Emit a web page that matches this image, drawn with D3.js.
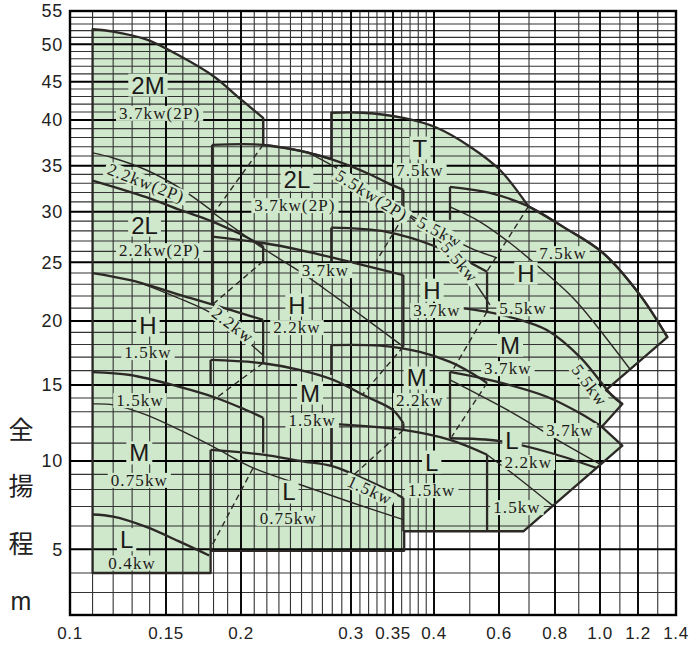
<!DOCTYPE html>
<html><head><meta charset="utf-8">
<script src="https://cdn.jsdelivr.net/npm/d3@7/dist/d3.min.js"></script>
<style>html,body{margin:0;padding:0;background:#fff}svg{display:block}</style>
</head><body>
<svg id="chart" width="690" height="645"></svg>
<script>
// ---------------- axis data ----------------
const xTicks = [0.1,0.15,0.2,0.3,0.35,0.4,0.6,0.8,1.0,1.2,1.4];
const xTickLabels = ["0.1","0.15","0.2","0.3","0.35","0.4","0.6","0.8","1.0","1.2","1.4"];
const xMinor = [0.11,0.12,0.13,0.14,0.16,0.17,0.18,0.19,0.21,0.22,0.23,0.24,0.25,0.26,0.27,0.28,0.29,
                0.31,0.32,0.33,0.34,0.36,0.37,0.38,0.39,0.5,0.7,0.9,1.1,1.3];
const yTicks = [5,10,15,20,25,30,35,40,45,50,55];
const yMinor = [3.5,4,6,7,8,9,11,12,13,14,16,17,18,19,21,22,23,24,26,27,28,29,31,32,33,34,
                36,37,38,39,41,42,43,44,46,47,48,49,51,52,53,54];
const yTitle = ["全","揚","程","m"];

// ---------------- curves  [Q (m3/min), H (m)] ----------------
// thick (upper limit) curves
const top2M  = [[0.11,52.2],[0.12,51.85],[0.138,50.7],[0.158,48.4],[0.18,45.7],[0.199,42.75],[0.217,40.25]];
const top2LA = [[0.11,33.3],[0.138,31.5],[0.158,30.2],[0.178,29.03],[0.199,27.7],[0.217,26.5]];
const topHA  = [[0.11,24.0],[0.129,23.36],[0.1645,21.83],[0.192,20.86],[0.217,20.08]];
const topMA  = [[0.11,15.9],[0.129,15.69],[0.158,14.85],[0.18,14.07],[0.199,13.32],[0.217,12.6]];
const topLA  = [[0.11,6.57],[0.12,6.46],[0.138,5.96],[0.158,5.31],[0.177,4.72]];
const topB2L = [[0.179,37.2],[0.217,37.2],[0.249,36.55],[0.281,35.6],[0.318,34.16],[0.342,33.07],[0.362,32.28]];
const top37B = [[0.179,27.43],[0.217,26.8],[0.249,26.13],[0.299,25.03],[0.362,23.82]];
const topMB  = [[0.178,16.79],[0.217,16.54],[0.249,16.04],[0.281,15.35],[0.318,14.09],[0.35,13.12],[0.362,12.23]];
const topLB  = [[0.178,10.61],[0.217,10.34],[0.249,10.0],[0.279,9.63],[0.302,9.03],[0.334,8.2],[0.362,7.48]];
const topT   = [[0.279,40.9],[0.3135,40.9],[0.362,40.25],[0.407,39.1],[0.501,37.0],[0.603,34.5],[0.6975,30.55]];
const topHC  = [[0.279,28.32],[0.342,27.9],[0.407,26.42],[0.557,24.12]];
const topMC  = [[0.279,17.95],[0.334,17.9],[0.382,17.4],[0.442,16.64],[0.50,15.9],[0.557,15.14]];
const topLC  = [[0.279,12.19],[0.362,11.8],[0.442,11.19],[0.557,10.34]];
const topE75 = [[0.442,32.6],[0.567,31.95],[0.6975,30.55],[0.84,28.3],[1.015,25.85],[1.21,22.07],[1.352,18.6]];
const topE55 = [[0.45,21.1],[0.557,20.7],[0.646,20.23],[0.767,19.2],[0.906,17.0],[1.066,14.07],[1.113,13.56]];
const topME  = [[0.442,15.92],[0.591,15.23],[0.767,14.09],[0.906,12.9],[1.009,12.0]];
const topLE  = [[0.442,11.29],[0.603,11.12],[0.78,10.45],[0.985,9.45]];
// thin (smaller motor) curves
const thin22_2P = [[0.11,36.33],[0.12,35.8],[0.138,34.5],[0.158,32.5],[0.18,29.97]];
const thin22A   = [[0.135,23.1],[0.16,21.67],[0.178,20.63],[0.199,18.78],[0.217,17.15]];
const thinMA    = [[0.11,13.56],[0.12,13.49],[0.138,12.79],[0.158,11.8],[0.18,10.78],[0.209,9.48],[0.249,8.3],[0.299,7.25],[0.362,6.31]];
const thin37B   = [[0.18,29.85],[0.199,27.9],[0.219,26.13],[0.249,24.1],[0.281,22.07],[0.322,19.9],[0.362,17.82]];
const thin55_2P = [[0.255,36.44],[0.288,34.5],[0.324,32.17],[0.366,29.85],[0.415,27.9],[0.501,26.33],[0.593,25.4]];
const thin55T   = [[0.364,29.85],[0.4025,27.4],[0.4704,25.03],[0.533,22.5],[0.567,21.26]];
const thinE75   = [[0.442,30.48],[0.533,28.93],[0.635,26.8],[0.7405,24.47],[0.8834,21.67],[1.049,18.12],[1.155,16.1]];
const thinME    = [[0.442,15.35],[0.646,12.9],[0.832,11.0],[1.0,9.76]];
const thinLC    = [[0.557,10.34],[0.668,8.67],[0.792,7.03]];
// straight edges of regions
const edges = [
  [[0.217,40.25],[0.217,37.2]], [[0.217,26.5],[0.217,25.1]], [[0.217,20.08],[0.217,16.56]],
  [[0.217,12.6],[0.217,10.45]], [[0.179,37.2],[0.179,21.26]], [[0.362,32.28],[0.362,29.47]],
  [[0.362,23.82],[0.362,17.82]], [[0.178,16.79],[0.178,15.0]], [[0.362,12.23],[0.362,11.8]],
  [[0.178,10.61],[0.178,4.93]], [[0.362,7.48],[0.362,5.76]], [[0.279,28.32],[0.279,25.0]],
  [[0.557,24.12],[0.557,20.73]], [[0.279,17.95],[0.279,15.69]], [[0.279,12.19],[0.279,9.63]],
  [[0.557,10.34],[0.557,5.76]], [[0.442,32.6],[0.442,29.13]], [[0.442,15.92],[0.442,11.29]]
];
// dashed limit lines
const dashed = [
  [[0.217,37.2],[0.18,29.8]], [[0.217,25.1],[0.179,21.26]], [[0.217,16.56],[0.18,13.85]],
  [[0.209,9.45],[0.178,5.05]], [[0.362,29.47],[0.33,25.2]], [[0.362,17.82],[0.3135,14.3]],
  [[0.362,11.8],[0.299,8.74]], [[0.6975,30.51],[0.556,24.12]], [[0.557,20.73],[0.447,15.92]],
  [[0.557,15.14],[0.447,11.39]]
];
// outer boundary of the selection area
const notchB2L = [[0.217,37.2],[0.249,36.55],[0.279,35.7]];
const outlineZigzag = [[1.029,14.6],[1.113,13.56],[1.009,12.0],[1.113,10.85],[0.68,5.76],[0.363,5.76],
                       [0.363,4.93],[0.178,4.93],[0.178,4.0],[0.11,4.0]];
// labels
const labels = [
  {t:"2M",q:0.139,h:44.55,k:"big"}, {t:"3.7kw(2P)",q:0.146,h:40.9},
  {t:"2.2kw(2P)",q:0.138,h:33.07,r:21},
  {t:"2L",q:0.137,h:28.6,k:"big"}, {t:"2.2kw(2P)",q:0.146,h:26.13},
  {t:"H",q:0.139,h:19.65,k:"big"}, {t:"1.5kw",q:0.139,h:17.4},
  {t:"1.5kw",q:0.1344,h:13.85},
  {t:"M",q:0.134,h:10.45,k:"big"}, {t:"0.75kw",q:0.134,h:8.63},
  {t:"L",q:0.127,h:5.4,k:"big"}, {t:"0.4kw",q:0.130,h:4.42},
  {t:"2.2kw",q:0.194,h:19.65,r:37},
  {t:"2L",q:0.2458,h:33.4,k:"big"}, {t:"3.7kw(2P)",q:0.244,h:30.68},
  {t:"3.7kw",q:0.273,h:24.28},
  {t:"H",q:0.2458,h:21.26,k:"big"}, {t:"2.2kw",q:0.2458,h:19.47},
  {t:"M",q:0.258,h:14.38,k:"big"}, {t:"1.5kw",q:0.26,h:12.45},
  {t:"L",q:0.2386,h:7.85,k:"big"}, {t:"0.75kw",q:0.238,h:6.41},
  {t:"1.5kw",q:0.3217,h:7.97,r:25},
  {t:"5.5kw(2P)",q:0.324,h:31.73,r:32},
  {t:"T",q:0.382,h:36.87,k:"big"}, {t:"7.5kw",q:0.382,h:34.5},
  {t:"5.5kw",q:0.415,h:27.9,r:28}, {t:"5.5kw",q:0.470,h:25.03,r:50},
  {t:"H",q:0.3974,h:22.5,k:"big"}, {t:"3.7kw",q:0.4075,h:20.86},
  {t:"M",q:0.378,h:15.49,k:"big"}, {t:"2.2kw",q:0.382,h:13.85},
  {t:"L",q:0.397,h:9.93,k:"big"}, {t:"1.5kw",q:0.397,h:7.96},
  {t:"7.5kw",q:0.8324,h:25.85},
  {t:"H",q:0.689,h:24.0,k:"big"}, {t:"5.5kw",q:0.679,h:21.0},
  {t:"M",q:0.635,h:17.95,k:"big"}, {t:"3.7kw",q:0.628,h:16.19},
  {t:"5.5kw",q:0.9516,h:15.0,r:53},
  {t:"3.7kw",q:0.8617,h:11.8},
  {t:"L",q:0.6415,h:11.19,k:"big"}, {t:"2.2kw",q:0.6975,h:9.93},
  {t:"1.5kw",q:0.658,h:6.97}
];

// ---------------- scales (non-uniform chart paper) ----------------
const x = d3.scaleLog().domain(xTicks).range([70,166,241,351,393,434,499,555,600,638,676]);
const y = d3.scaleLog().domain([3,4,5,10,15,20,25,30,35,40,45,50,55])
            .range([615,573,549.3,461,385,321,262.3,211.7,165.7,120,81.7,44.3,11]);

const GREEN = "#cfe7cb", INK = "#2b2826";
const svg = d3.select("#chart");
const X0 = x(0.1), X1 = x(1.4), Y0 = y(3), Y1 = y(55);

const curveGen = d3.line().x(d=>x(d[0])).y(d=>y(d[1])).curve(d3.curveCatmullRom.alpha(0.5));
const lineGen = d3.line().x(d=>x(d[0])).y(d=>y(d[1]));
const cont = s => s.replace(/^M/,"L");

// ---------- green area ----------
let p = lineGen([[0.11,4],[0.11,52.2]]);
p += cont(curveGen(top2M));
p += cont(lineGen([[0.217,40.25],[0.217,37.2]]));
p += cont(curveGen(notchB2L));
p += cont(lineGen([[0.279,35.7],[0.279,40.9]]));
p += cont(curveGen(topT));
p += cont(curveGen(topE75.filter(d=>d[0]>=0.6975)));
p += cont(lineGen(outlineZigzag)) + "Z";
svg.append("path").attr("d",p).attr("fill",GREEN).attr("stroke","none");

// ---------- grid ----------
const grid = svg.append("g");
grid.selectAll("line.xm").data(xMinor).join("line")
  .attr("x1",d=>x(d)).attr("x2",d=>x(d)).attr("y1",Y0).attr("y2",Y1)
  .attr("stroke","#333").attr("stroke-width",1.1);
grid.selectAll("line.ym").data(yMinor).join("line")
  .attr("y1",d=>y(d)).attr("y2",d=>y(d)).attr("x1",X0).attr("x2",X1)
  .attr("stroke","#333").attr("stroke-width",1.1);
grid.selectAll("line.xM").data(xTicks).join("line")
  .attr("x1",d=>x(d)).attr("x2",d=>x(d)).attr("y1",Y0).attr("y2",Y1)
  .attr("stroke","#000").attr("stroke-width",1.9);
grid.selectAll("line.yM").data(yTicks).join("line")
  .attr("y1",d=>y(d)).attr("y2",d=>y(d)).attr("x1",X0).attr("x2",X1)
  .attr("stroke","#000").attr("stroke-width",1.9);
svg.append("rect").attr("x",X0).attr("y",Y1).attr("width",X1-X0).attr("height",Y0-Y1)
  .attr("fill","none").attr("stroke","#000").attr("stroke-width",2.4);

// ---------- outline + curves ----------
svg.append("path").attr("d",p).attr("fill","none").attr("stroke",INK).attr("stroke-width",2.3).attr("stroke-linejoin","round");
const thick = [top2LA,topHA,topMA,topLA,topB2L,top37B,topMB,topLB,topHC,topMC,topLC,topE75,topE55,topME,topLE];
const thin = [thin22_2P,thin22A,thinMA,thin37B,thin55_2P,thin55T,thinE75,thinME,thinLC];
svg.append("g").selectAll("path").data(thick).join("path").attr("d",curveGen)
  .attr("fill","none").attr("stroke",INK).attr("stroke-width",2.3);
svg.append("g").selectAll("path").data(thin).join("path").attr("d",curveGen)
  .attr("fill","none").attr("stroke",INK).attr("stroke-width",1.4);
svg.append("g").selectAll("path").data(edges).join("path").attr("d",lineGen)
  .attr("fill","none").attr("stroke",INK).attr("stroke-width",2.3);
svg.append("g").selectAll("path").data(dashed).join("path").attr("d",lineGen)
  .attr("fill","none").attr("stroke",INK).attr("stroke-width",1.4).attr("stroke-dasharray","6,4");

// ---------- labels ----------
const gl = svg.append("g");
labels.forEach(l=>{
  const g = gl.append("g").attr("transform",`translate(${x(l.q)},${y(l.h)}) rotate(${l.r||0})`);
  const t = g.append("text").text(l.t).attr("text-anchor","middle").attr("dy","0.36em").attr("fill","#1c1a19");
  if (l.k==="big") t.attr("font-family","'Liberation Sans',Arial,sans-serif").attr("font-size",24);
  else t.attr("font-family","'Liberation Serif','DejaVu Serif',serif").attr("font-size",17).attr("letter-spacing",1.1);
  const b = t.node().getBBox();
  g.insert("rect","text").attr("x",b.x-3).attr("y",b.y+2).attr("width",b.width+6).attr("height",b.height-4).attr("fill",GREEN);
});

// ---------- axis labels ----------
const ax = svg.append("g").attr("font-family","'Liberation Sans',Arial,sans-serif").attr("fill","#222");
ax.selectAll("text.yt").data(yTicks).join("text").attr("x",63).attr("y",d=>y(d)).attr("dy","0.36em")
  .attr("font-size",18).attr("text-anchor","end").attr("letter-spacing",0.8).text(d=>d);
ax.selectAll("text.xt").data(xTicks).join("text").attr("x",d=>x(d)).attr("y",633).attr("dy","0.36em")
  .attr("font-size",17).attr("text-anchor","middle").attr("letter-spacing",0.6).text((d,i)=>xTickLabels[i]);
const titleY = [430,486,544,601];
svg.append("g").selectAll("text").data(yTitle).join("text")
  .attr("x",21).attr("y",(d,i)=>titleY[i]).attr("dy","0.36em").attr("text-anchor","middle")
  .attr("font-family",(d,i)=>i<3?"'Noto Sans CJK JP',sans-serif":"'Liberation Sans',Arial,sans-serif")
  .attr("font-size",25).attr("fill","#222").text(d=>d);
</script>
</body></html>
